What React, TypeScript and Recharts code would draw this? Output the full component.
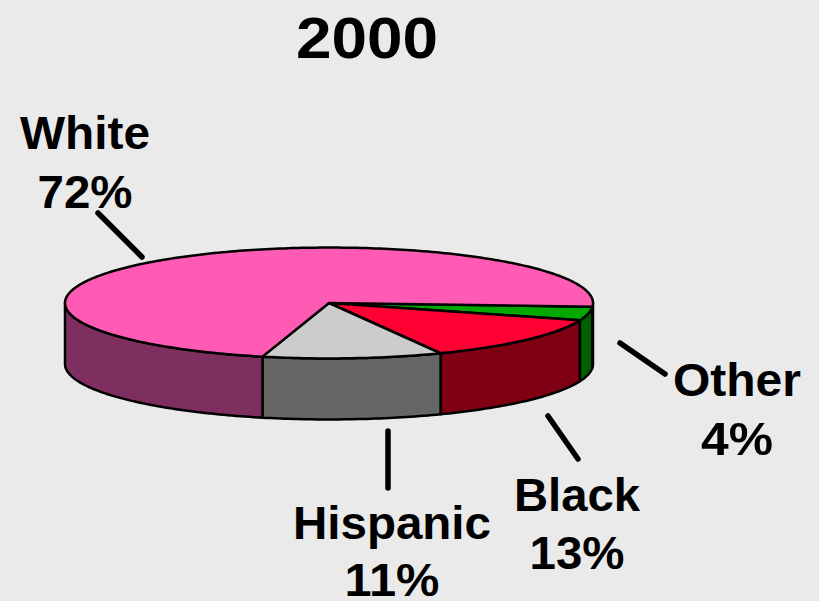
import React from "react";
import { PieChart, Pie } from "recharts";

const categories = ["Other", "Black", "Hispanic", "White"];
const shares = [4, 13, 11, 72];
const topColors = ["#00A800", "#FF0033", "#CCCCCC", "#FF5AB4"];
const sideColors = ["#005F00", "#7F0012", "#666666", "#7F2F5F"];
const chartTitle = "2000";

const data = categories.map((name, i) => ({ name, value: shares[i], fill: topColors[i], side: sideColors[i] }));

const SQUASH = 0.21;
const DEPTH = 61;
const labelLayout = [
  { x: 737, y1: 396, y2: 455, len1: 128, len2: 72, line: [620, 343, 665, 374] },
  { x: 577, y1: 511, y2: 569, len1: 126, len2: 95, line: [548, 416, 578, 459] },
  { x: 392, y1: 539, y2: 596, len1: 198, len2: 95, line: [388, 431, 388, 488] },
  { x: 85, y1: 149, y2: 208, len1: 130, len2: 95, line: [98, 213, 142, 257] },
];

function arcPoints(cx: number, cy: number, r: number, from: number, to: number) {
  const pts: [number, number][] = [];
  const steps = Math.max(2, Math.ceil(Math.abs(to - from)));
  for (let i = 0; i <= steps; i++) {
    const t = ((from + ((to - from) * i) / steps) * Math.PI) / 180;
    pts.push([cx + r * Math.cos(t), cy + r * SQUASH * Math.sin(t)]);
  }
  return pts;
}
const toPath = (pts: [number, number][]) => pts.map((p, i) => `${i ? "L" : "M"}${p[0].toFixed(2)},${p[1].toFixed(2)}`).join("");

function wall(cx: number, cy: number, r: number, a: number, b: number, fill: string, key: string) {
  const pts = arcPoints(cx, cy, r, a, b);
  const lower = pts.map((p) => [p[0], p[1] + DEPTH] as [number, number]).reverse();
  return <path key={key} d={toPath([...pts, ...lower]) + "Z"} fill={fill} stroke="#000" strokeWidth={2.5} strokeLinejoin="round" />;
}

function Slice(props: any) {
  const { cx, cy, outerRadius, startAngle, endAngle, fill, side } = props;
  const t0 = -startAngle;
  const t1 = -endAngle;
  const walls: React.ReactNode[] = [];
  // visible wall: angle range on the front half of the ellipse (0..180, 360..540)
  [0, 360].forEach((base) => {
    const a = Math.max(t0, base);
    const b = Math.min(t1, base + 180);
    if (b > a) walls.push(wall(cx, cy, outerRadius, a, b, side, `w${base}`));
  });
  const top = `M${cx},${cy}` + toPath(arcPoints(cx, cy, outerRadius, t0, t1)).replace("M", "L") + "Z";
  return (
    <g>
      {walls}
      <path d={top} fill={fill} stroke="#000" strokeWidth={2.5} strokeLinejoin="round" />
    </g>
  );
}

function Label(props: any) {
  const l = labelLayout[props.index];
  const style = { fontFamily: "'Liberation Sans', Arial, sans-serif", fontWeight: 700, fontSize: 47, fill: "#000" };
  return (
    <g>
      <line x1={l.line[0]} y1={l.line[1]} x2={l.line[2]} y2={l.line[3]} stroke="#000" strokeWidth={5.5} strokeLinecap="round" />
      <text x={l.x} y={l.y1} textAnchor="middle" textLength={l.len1} lengthAdjust="spacingAndGlyphs" {...style}>{props.name}</text>
      <text x={l.x} y={l.y2} textAnchor="middle" textLength={l.len2} lengthAdjust="spacingAndGlyphs" {...style}>{`${props.value}%`}</text>
    </g>
  );
}

export default function App() {
  return (
    <div style={{ position: "absolute", left: 0, top: 0, width: 819, height: 601, background: "#EAEAEA", overflow: "hidden" }}>
      <PieChart width={819} height={601} margin={{ top: 0, right: 0, bottom: 0, left: 0 }}>
        <text x={367} y={58} textAnchor="middle" textLength={142} lengthAdjust="spacingAndGlyphs"
          style={{ fontFamily: "'Liberation Sans', Arial, sans-serif", fontWeight: 700, fontSize: 57, fill: "#000" }}>{chartTitle}</text>
        <Pie
          data={data}
          dataKey="value"
          nameKey="name"
          cx={329}
          cy={303}
          innerRadius={0}
          outerRadius={264}
          startAngle={-3.8}
          endAngle={-363.8}
          paddingAngle={0}
          stroke="#000"
          shape={Slice}
          label={Label}
          labelLine={false}
          isAnimationActive={false}
        />
      </PieChart>
    </div>
  );
}
